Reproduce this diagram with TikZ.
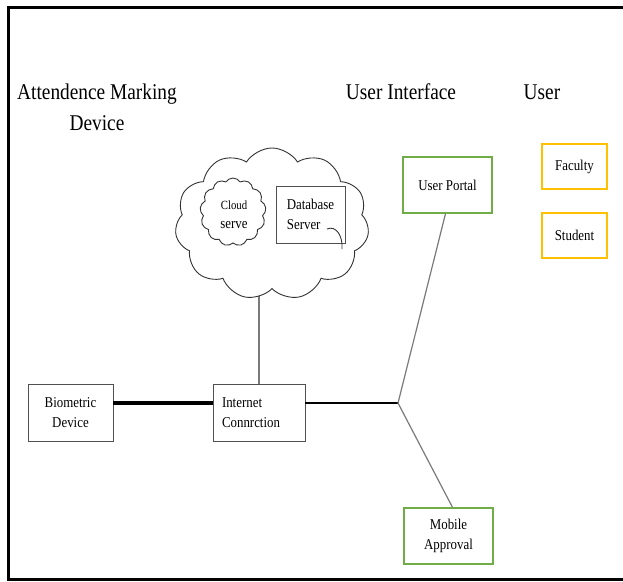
\documentclass[tikz,border=0pt]{standalone}
\usepackage{fontspec}
\setmainfont{Liberation Serif}[FakeStretch=0.86]
\usetikzlibrary{shapes.symbols,backgrounds}
\definecolor{portalgreen}{HTML}{70AD47}
\definecolor{usergold}{HTML}{FFC000}
\definecolor{edgegray}{HTML}{505050}
\definecolor{wiregray}{HTML}{7A7A7A}
\tikzset{
  heading/.style={font=\fontsize{22.5}{31}\selectfont, align=center, inner sep=0pt},
  boxtext/.style={font=\fontsize{15}{19.5}\selectfont, align=center, inner sep=0pt},
  plainbox/.style={boxtext, draw=edgegray, line width=0.8pt, fill=white},
  greenbox/.style={boxtext, draw=portalgreen, line width=1.3pt, fill=white},
  goldbox/.style={boxtext, draw=usergold, line width=1.3pt, fill=white},
  puffy/.style={cloud, draw=black!80, line width=0.9pt, fill=white, cloud puff arc=115, inner sep=0pt},
  thinwire/.style={draw=wiregray, line width=1.2pt},
  heavywire/.style={draw=black, line width=4.5pt},
  midwire/.style={draw=black, line width=2.6pt},
}
\begin{document}
\begin{tikzpicture}[x=1pt, y=-1pt]
\useasboundingbox (0,0) rectangle (623,581);

% outer frame (open on the right)
\draw[line width=3pt] (623,7.5) -- (8.5,7.5) -- (8.5,579.5) -- (623,579.5);

% column headings (base anchor sits on the last line)
\node[heading, anchor=base] (hdev) at (97,130) {Attendence Marking\\Device};
\node[heading, anchor=base] (hui) at (401,99) {User Interface};
\node[heading, anchor=base] (huser) at (542,99) {User};

% cloud with its services
\node[puffy, cloud puffs=11, minimum width=194pt, minimum height=152pt] (cloud) at (272,224) {};
\node[puffy, cloud puffs=13, minimum width=66pt, minimum height=68pt] (cserve) at (233,212) {};
\node[font=\fontsize{12.5}{16}\selectfont, inner sep=0pt, anchor=base] (cloudlbl) at (234,209) {Cloud};
\node[font=\fontsize{15}{19}\selectfont, inner sep=0pt, anchor=base] (servelbl) at (234,228) {serve};
\node[plainbox, minimum width=69pt, minimum height=57pt, align=left] (db) at (310.5,214.5) {Database\\Server};
\draw[draw=black!80, line width=0.9pt] (327,229) .. controls (336,225) and (343,236) .. (342,249);

% devices
\node[plainbox, minimum width=85pt, minimum height=57pt] (bio) at (70.5,412.5) {Biometric\\Device};
\node[plainbox, minimum width=92pt, minimum height=57pt, text width=74pt, inner xsep=9pt, align=left] (net) at (259,412.5) {Internet\\Connrction};

% user interface
\node[greenbox, minimum width=89pt, minimum height=56pt] (portal) at (447.5,185) {User Portal};
\node[greenbox, minimum width=89pt, minimum height=56pt] (mobile) at (448.5,536) {Mobile\\Approval};

% users
\node[goldbox, minimum width=65pt, minimum height=45pt] (faculty) at (574.5,166.5) {Faculty};
\node[goldbox, minimum width=65pt, minimum height=45pt] (student) at (574.5,235.5) {Student};

% connections, kept behind the shapes
\coordinate (hub) at (398,403);
\begin{scope}[on background layer]
\draw[thinwire] (net.north) -- (net.north |- cloud.center);
\end{scope}
\draw[heavywire] (bio.east |- hub) -- (net.west |- hub);
\draw[midwire] (net.east |- hub) -- (hub);
\draw[thinwire] (hub) -- ([xshift=-2pt]portal.south);
\draw[thinwire] (hub) -- ([xshift=4pt]mobile.north);
\end{tikzpicture}
\end{document}
